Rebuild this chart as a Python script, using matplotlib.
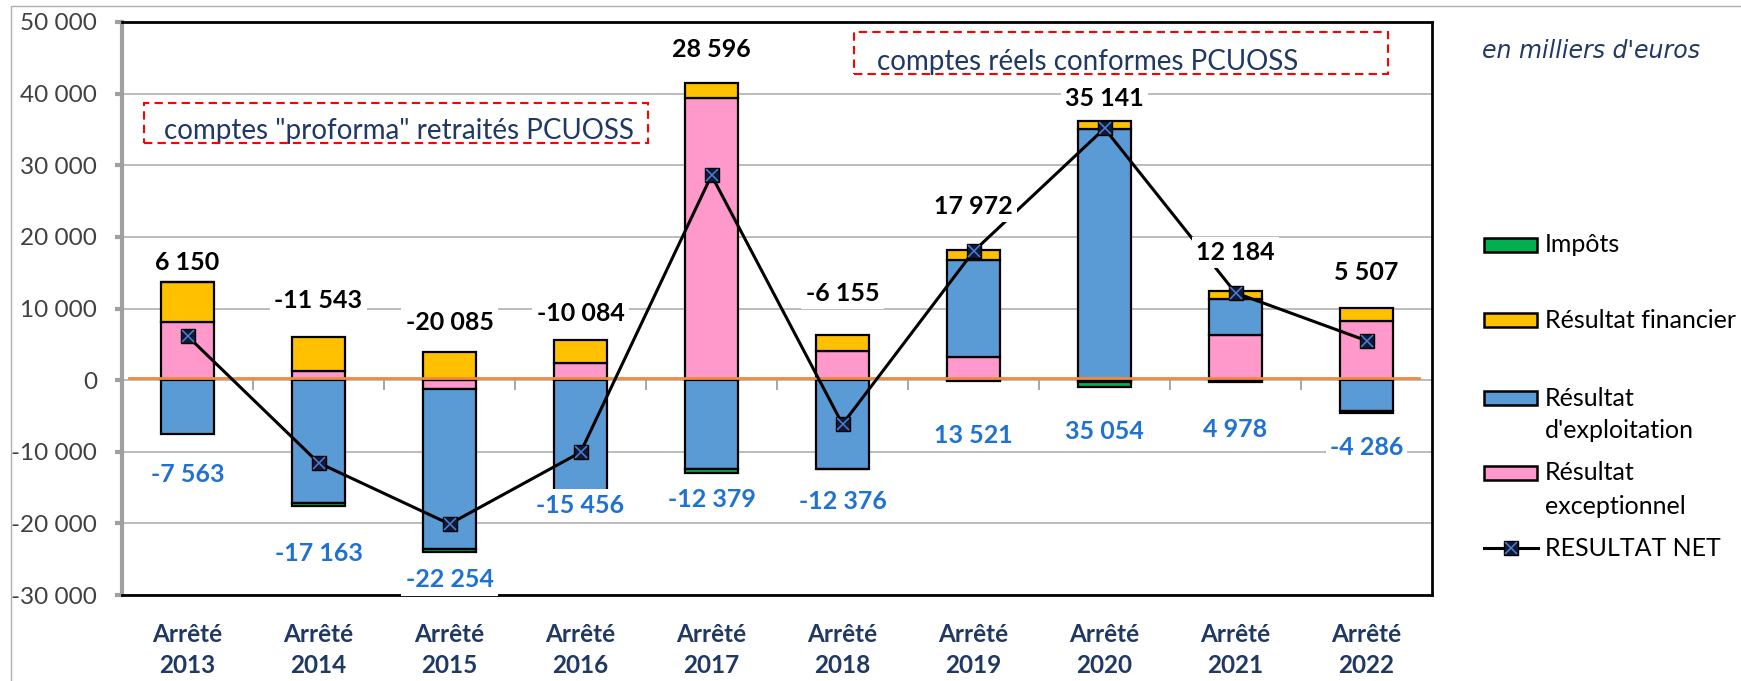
import matplotlib
matplotlib.use("Agg")
import matplotlib.pyplot as plt
from matplotlib.patches import Rectangle
from matplotlib.lines import Line2D
from matplotlib.ticker import FuncFormatter
import numpy as np

years = ['2013', '2014', '2015', '2016', '2017', '2018', '2019', '2020', '2021', '2022']
exceptionnel = [8050, 1270, -1300, 2390, 39340, 4050, 3240, -300, 6300, 8300]
exploitation = [-7563, -17163, -22254, -15456, -12379, -12376, 13521, 35054, 4978, -4286]
financier = [5663, 4790, 3900, 3240, 2210, 2240, 1400, 1100, 1100, 1750]
impots = [0, -440, -431, -258, -575, -69, -189, -713, -194, -257]
resultat_net = [6150, -11543, -20085, -10084, 28596, -6155, 17972, 35141, 12184, 5507]

# where the value labels sit (data units), as placed by hand in the original
net_label_y = [16480, 11130, 8030, 9360, 46200, 12150, 24300, 39340, 17850, 15000]
expl_label_y = [-13240, -24230, -27900, -17460, -16620, -17000, -7750, -7180, -6900, -9400]

W, H = 1741, 681
NAVY = '#1F3864'
BLUE_TXT = '#1F72D2'
GREY = '#A0A0A0'


def fx(px):
    return px / W


def fy(py):
    return 1 - py / H


def fmt(v):
    return f"{int(v):,}".replace(",", " ")


fig = plt.figure(figsize=(W / 100, H / 100), dpi=100)
ax = fig.add_axes([fx(122), fy(595), fx(1432) - fx(122), fy(22) - fy(595)])

x = np.arange(len(years))
series = [
    (exceptionnel, '#FF99CC', 'Résultat\nexceptionnel'),
    (exploitation, '#5B9BD5', "Résultat\nd'exploitation"),
    (financier, '#FFC000', 'Résultat financier'),
    (impots, '#00B050', 'Impôts'),
]

# Excel-like stacking: positives and negatives piled separately
pos = np.zeros(len(years))
neg = np.zeros(len(years))
for vals, color, _ in series:
    v = np.array(vals, dtype=float)
    bottom = np.where(v >= 0, pos, neg)
    ax.bar(x, v, bottom=bottom, width=0.40, color=color, edgecolor='black',
           linewidth=1.6, zorder=3)
    pos += np.clip(v, 0, None)
    neg += np.clip(v, None, 0)

ax.axhline(280, xmin=0.005, xmax=0.99, color='#F08A3C', lw=2, zorder=4)
ax.vlines(x[:-1] + 0.5, -1400, 0, color=GREY, lw=1.3, zorder=2)

ax.plot(x, resultat_net, color='black', lw=2.2, marker='s', ms=9.5,
        mfc='#0F1A3A', mec='black', zorder=5)
ax.plot(x, resultat_net, ls='none', marker='x', ms=8.5, mew=1.1,
        color='#4F7FD0', zorder=6)

for i in range(len(years)):
    ax.text(x[i], net_label_y[i], fmt(resultat_net[i]), ha='center', va='center',
            fontsize=18, fontweight='bold', family='Lato', color='black', zorder=7,
            bbox=dict(fc='white', ec='none', pad=3))
    ax.text(x[i], expl_label_y[i], fmt(exploitation[i]), ha='center', va='center',
            fontsize=18, fontweight='bold', family='Lato', color=BLUE_TXT, zorder=7,
            bbox=dict(fc='white', ec='none', pad=3))

ax.set_xlim(-0.5, len(years) - 0.5)
ax.set_ylim(-30000, 50000)
ax.set_yticks(np.arange(-30000, 50001, 10000))
ax.yaxis.set_major_formatter(FuncFormatter(lambda v, _: fmt(v)))
ax.yaxis.grid(True, color='#B0B0B0', lw=1.2)
ax.set_axisbelow(True)

ax.set_xticks(x)
ax.set_xticklabels([f"Arrêté\n{y}" for y in years])
for lbl in ax.get_xticklabels():
    lbl.set_linespacing(1.42)
    lbl.set_family('Lato')
    lbl.set_fontweight('bold')
    lbl.set_fontsize(17.5)
    lbl.set_color(NAVY)
ax.tick_params(axis='x', length=0, pad=20)
ax.tick_params(axis='y', direction='out', length=5, width=3, color=GREY,
               labelsize=17.5, labelcolor='#404040', pad=13)
for lbl in ax.get_yticklabels():
    lbl.set_family('Lato')

for side in ['top', 'right', 'bottom']:
    ax.spines[side].set_color('black')
    ax.spines[side].set_linewidth(2)
ax.spines['left'].set_color(GREY)
ax.spines['left'].set_linewidth(3)

# dashed annotation boxes
for (x0, y0, x1, y1), txt, tx, ty in [
    ((144, 103, 648, 143), 'comptes "proforma" retraités PCUOSS', 164, 131),
    ((854, 32, 1388, 74), 'comptes réels conformes PCUOSS', 877, 62),
]:
    fig.add_artist(Rectangle((fx(x0), fy(y1)), fx(x1) - fx(x0), fy(y0) - fy(y1),
                             transform=fig.transFigure, fill=False, ec='red',
                             lw=1.5, ls=(0, (4, 2.5)), zorder=8))
    fig.text(fx(tx), fy(ty), txt, ha='left', va='center', fontsize=20,
             family='Lato', color=NAVY)

fig.text(fx(1482), fy(51), "en milliers d'euros", ha='left', va='center',
         fontsize=17, style='italic', family='DejaVu Sans', color=NAVY)

# legend drawn by hand so each handle sits on the first text line
leg_rows = [(245, 3), (320, 2), (398, 1), (473, 0)]
for yy, k in leg_rows:
    _, color, label = series[k]
    fig.add_artist(Rectangle((fx(1484), fy(yy + 7)), fx(53), 14 / H,
                             transform=fig.transFigure, fc=color, ec='black', lw=1.8))
    for j, line in enumerate(label.split('\n')):
        fig.text(fx(1545), fy(yy + 33 * j), line, ha='left', va='center',
                 fontsize=18, family='Lato', color='black')
fig.add_artist(Line2D([fx(1484), fx(1538)], [fy(548), fy(548)], transform=fig.transFigure,
                      color='black', lw=2.2))
fig.add_artist(Line2D([fx(1511)], [fy(548)], transform=fig.transFigure, marker='s', ms=9.5,
                      mfc='#0F1A3A', mec='black', ls='none'))
fig.add_artist(Line2D([fx(1511)], [fy(548)], transform=fig.transFigure, marker='x', ms=8.5,
                      mew=1.1, color='#4F7FD0', ls='none'))
fig.text(fx(1545), fy(548), 'RESULTAT NET', ha='left', va='center', fontsize=18,
         family='Lato', color='black')

# thin outer frame of the original picture
fig.add_artist(Rectangle((fx(11), -0.05), 1.0, fy(6) + 0.05, transform=fig.transFigure,
                         fill=False, ec='#B0B0B0', lw=1))

fig.savefig('out.png', dpi=100)
